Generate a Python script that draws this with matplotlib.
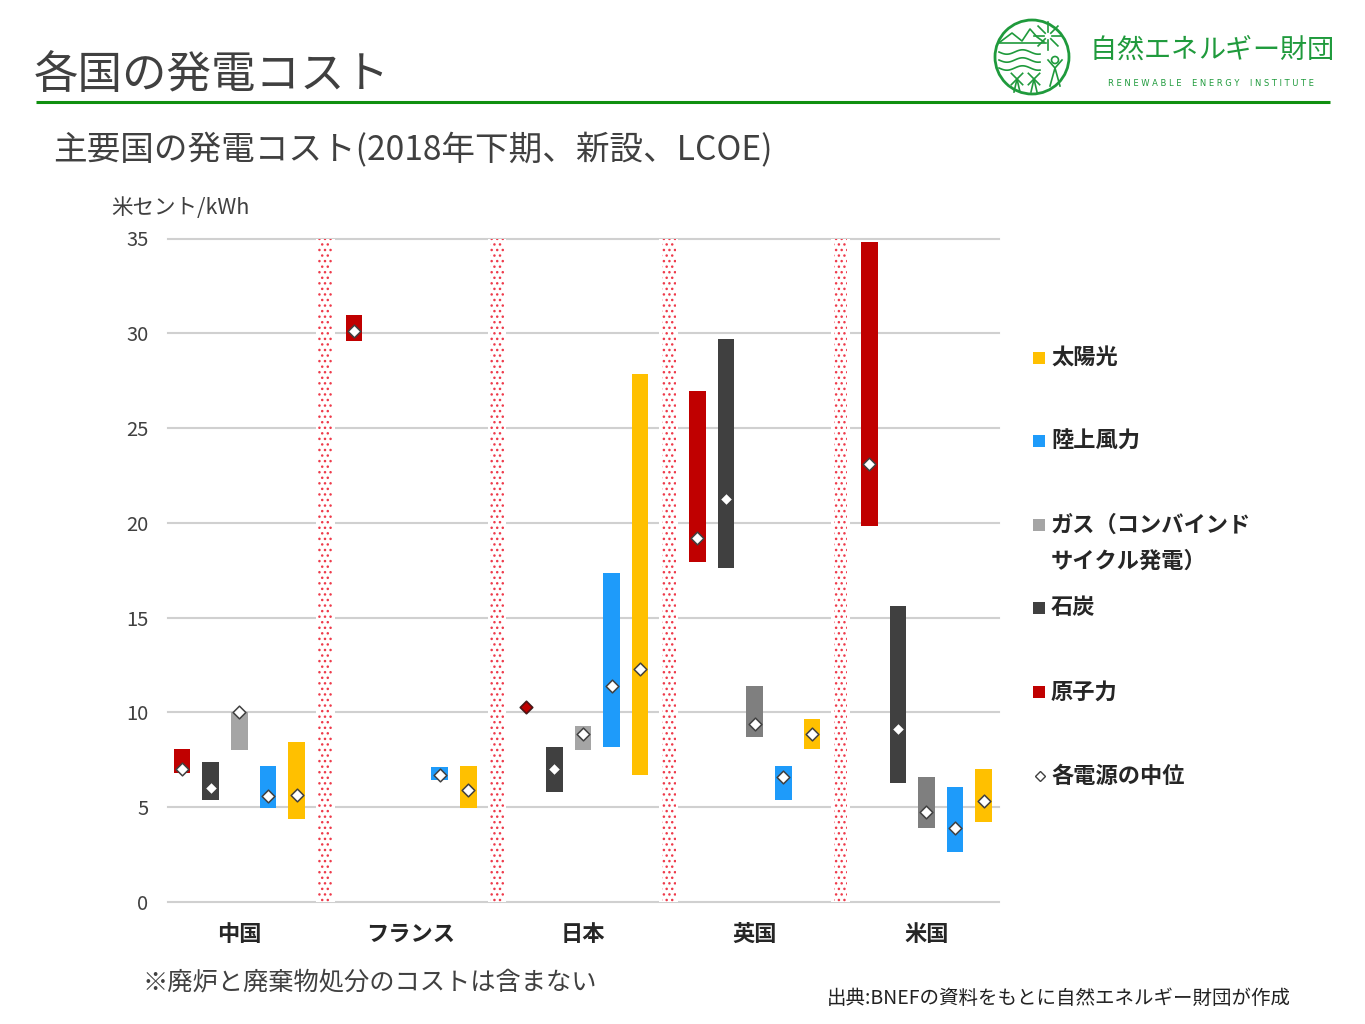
"""各国の発電コスト -- range bars with median markers, slide layout."""

import numpy as np
import matplotlib
matplotlib.use("Agg")
import matplotlib.pyplot as plt
from matplotlib.patches import Circle, Rectangle

plt.rcParams["font.family"] = ["Noto Sans CJK JP", "DejaVu Sans"]
plt.rcParams["hatch.linewidth"] = 1.0

W, H = 1365, 1024

countries = ["中国", "フランス", "日本", "英国", "米国"]
y_ticks = [0, 5, 10, 15, 20, 25, 30, 35]

# low / high / median per country, nan where there is no bar
nuclear_low = [6.8, 29.6, np.nan, 17.95, 19.85]
nuclear_high = [8.07, 30.95, np.nan, 26.95, 34.8]
nuclear_mid = [7.0, 30.1, 10.3, 19.2, 23.1]

coal_low = [5.4, np.nan, 5.8, 17.6, 6.3]
coal_high = [7.4, np.nan, 8.2, 29.7, 15.6]
coal_mid = [6.0, np.nan, 7.0, 21.25, 9.15]

gas_low = [8.0, np.nan, 8.0, 8.7, 3.9]
gas_high = [10.0, np.nan, 9.3, 11.4, 6.6]
gas_mid = [10.0, np.nan, 8.85, 9.4, 4.75]

wind_low = [4.95, 6.45, 8.2, 5.4, 2.65]
wind_high = [7.15, 7.1, 17.35, 7.15, 6.05]
wind_mid = [5.6, 6.7, 11.4, 6.6, 3.9]

solar_low = [4.4, 4.95, 6.7, 8.05, 4.2]
solar_high = [8.45, 7.15, 27.85, 9.65, 7.0]
solar_mid = [5.65, 5.9, 12.3, 8.85, 5.35]

series = [
    (nuclear_low, nuclear_high, nuclear_mid, "#c00000"),
    (coal_low, coal_high, coal_mid, "#404040"),
    (gas_low, gas_high, gas_mid, ["#a5a5a5", "#a5a5a5", "#a5a5a5", "#7f7f7f", "#7f7f7f"]),
    (wind_low, wind_high, wind_mid, "#1e9bfa"),
    (solar_low, solar_high, solar_mid, "#ffc000"),
]
separators = [0.5, 1.5, 2.5, 3.5]

legend_labels = ["太陽光", "陸上風力", "ガス（コンバインド", "石炭", "原子力", "各電源の中位"]
legend_colors = ["#ffc000", "#1e9bfa", "#a5a5a5", "#404040", "#c00000", None]
legend_ypos = [358, 441, 525, 608, 692, 776]

GREEN = "#1f9a3c"

fig = plt.figure(figsize=(W / 100, H / 100), dpi=100)

# overlay in pixel coordinates for slide furniture
bg = fig.add_axes([0, 0, 1, 1])
bg.set_xlim(0, W)
bg.set_ylim(H, 0)
bg.axis("off")

bg.text(34, 75, "各国の発電コスト", fontsize=32, color="#404040", va="center")
bg.plot([36, 1330], [102, 102], color="#0f8f0f", lw=2.2, solid_capstyle="butt")
bg.text(53, 151, "主要国の発電コスト(2018年下期、新設、LCOE)", fontsize=24.2,
        color="#404040", va="center")
bg.text(111, 208, "米セント/kWh", fontsize=15.5, color="#404040", va="center")
bg.text(143, 982, "※廃炉と廃棄物処分のコストは含まない", fontsize=18.2,
        color="#404040", va="center")
bg.text(827, 998, "出典:BNEFの資料をもとに自然エネルギー財団が作成", fontsize=14,
        color="#222222", va="center")

# logo, drawn roughly
bg.add_patch(Circle((1032, 57), 37, fill=False, ec=GREEN, lw=2))
bg.plot([1000, 1012, 1022, 1030, 1037, 1044], [42, 33, 41, 29, 37, 42], color=GREEN, lw=1.2)
bg.plot([999, 1046], [43, 43], color=GREEN, lw=1.2)
for wy in [52, 60, 68]:
    wx = np.linspace(999, 1040, 40)
    bg.plot(wx, wy + 2.2 * np.sin((wx - 999) / 5.0), color=GREEN, lw=1.2)
for ang in np.arange(0, 2 * np.pi, np.pi / 4):
    bg.plot([1048 + 4 * np.cos(ang), 1048 + 14 * np.cos(ang)],
            [36 + 4 * np.sin(ang), 36 + 14 * np.sin(ang)], color=GREEN, lw=1.2)
bg.add_patch(Circle((1055, 60), 3.5, fill=False, ec=GREEN, lw=1.2))
bg.plot([1048, 1055, 1062], [60, 68, 60], color=GREEN, lw=1.2)
bg.plot([1050, 1055, 1060], [86, 68, 86], color=GREEN, lw=1.2)
for cx in [1017, 1034]:
    for ang in np.arange(0, 2 * np.pi, np.pi / 2) + np.pi / 4:
        bg.plot([cx, cx + 8 * np.cos(ang)], [79, 79 - 8 * np.sin(ang)], color=GREEN, lw=1.2)
    bg.plot([cx - 3, cx, cx + 3], [92, 79, 92], color=GREEN, lw=1.2)
for ch, cx in zip("自然エネルギー財団", np.linspace(1103, 1320, 9)):
    bg.text(cx, 50, ch, fontsize=19.5, color=GREEN, ha="center", va="center")
bg.text(1211, 83, "R E N E W A B L E    E N E R G Y    I N S T I T U T E", fontsize=6,
        color=GREEN, ha="center", va="center", family="DejaVu Sans")

# legend
for lab, col, ly in zip(legend_labels, legend_colors, legend_ypos):
    if col is None:
        bg.plot([1040], [ly], marker="D", ms=5.5, mfc="white", mec="#404040", mew=1)
    else:
        bg.add_patch(Rectangle((1033, ly - 6), 12, 12, fc=col, ec="none"))
    bg.text(1051, ly, lab, fontsize=16, fontweight="bold", color="#262626", va="center")
bg.text(1051, 561, "サイクル発電）", fontsize=16, fontweight="bold", color="#262626", va="center")

# main plot, one x unit is one country group
ax = fig.add_axes([168 / W, 1 - 902 / H, (999 - 168) / W, (902 - 238.5) / H])
ax.patch.set_alpha(0)
ax.set_xlim((168 - 239.3) / 171.8, (999 - 239.3) / 171.8)
ax.set_ylim(0, 35)
for s in ax.spines.values():
    s.set_visible(False)
ax.set_yticks(y_ticks)
ax.set_xticks(range(len(countries)))
ax.set_xticklabels(countries, fontsize=16, fontweight="bold", color="#262626")
ax.tick_params(axis="both", length=0)
ax.tick_params(axis="x", pad=15)
ax.tick_params(axis="y", pad=14, labelsize=14.5, labelcolor="#404040")
ax.grid(axis="y", color="#d0d0d0", lw=1.5, clip_on=False)
ax.set_axisbelow(True)

for sx in separators:
    ax.bar(sx, 35, width=0.11, color="white", zorder=1.5)
    ax.bar(sx, 35, width=0.08, facecolor="white", edgecolor="#ee3b4b",
           hatch="...", lw=0, zorder=1.6)

x = np.arange(len(countries))
for i, (lo, hi, mid, col) in enumerate(series):
    off = (i - 2) / 6
    lo, hi, mid = np.array(lo), np.array(hi), np.array(mid)
    ax.bar(x + off, hi - lo, bottom=lo, width=0.097, color=col, zorder=2)
    ax.scatter(x + off, mid, marker="D", s=42, c="white", edgecolors="#404040",
               linewidths=1.1, zorder=3, clip_on=False)

# Japan nuclear only has the one point, shown filled
ax.scatter([2 - 2 / 6], [nuclear_mid[2]], marker="D", s=36, c="#c00000",
           edgecolors="#5a1010", linewidths=1.0, zorder=4)

fig.savefig("out.png", dpi=100)
